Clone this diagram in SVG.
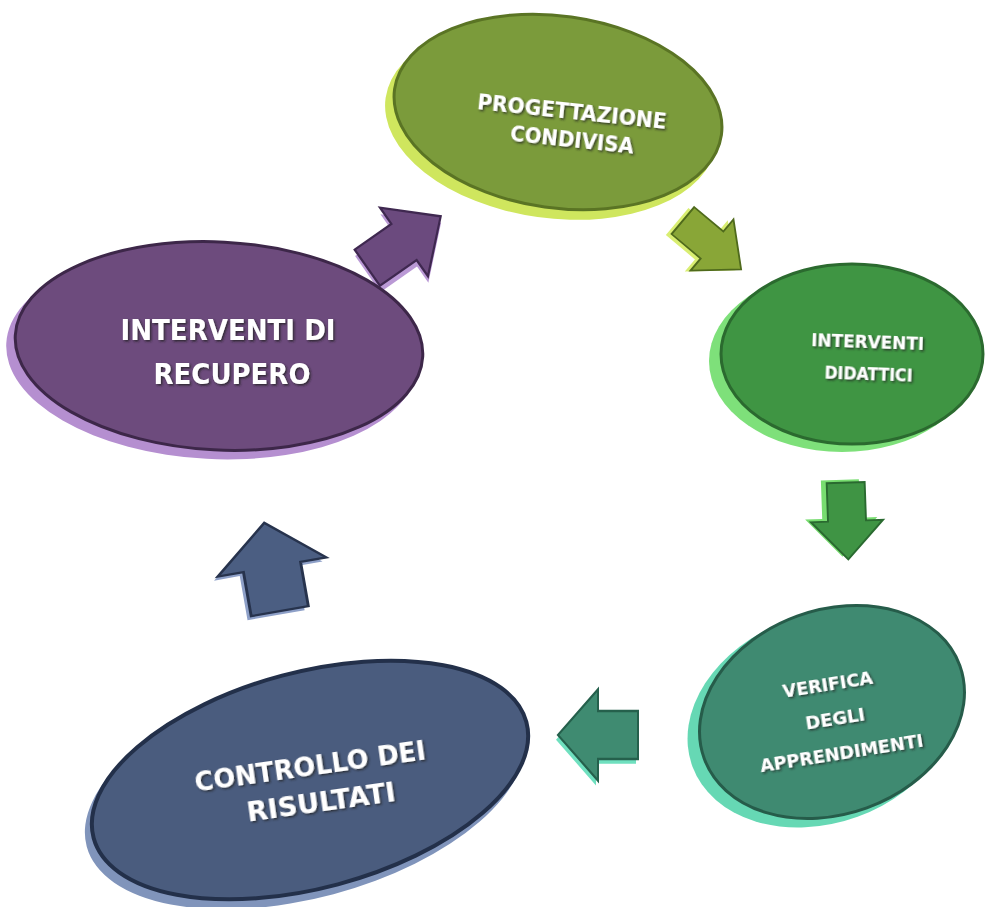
<svg xmlns="http://www.w3.org/2000/svg" width="985" height="907" viewBox="0 0 985 907">
<defs>
<style>
.lbl{font-family:"DejaVu Sans","Liberation Sans",sans-serif;font-weight:bold;fill:#ffffff;text-anchor:middle;filter:url(#ts);}
</style>
<filter id="ts" x="-10%" y="-30%" width="120%" height="160%">
<feDropShadow dx="1.5" dy="1.5" stdDeviation="0.8" flood-color="#222" flood-opacity="0.8"/>
</filter>
<path id="arr" d="M -40,-20 L 0,-20 L 0,-38 L 40,0 L 0,38 L 0,20 L -40,20 Z"/>
</defs>
<rect width="985" height="907" fill="#ffffff"/>

<g id="connectors">
  <g id="a-purple" transform="translate(404,242) rotate(-35) scale(1.12,1.1)">
    <use href="#arr" transform="translate(-3,5)" fill="#b28ed0" opacity="0.9"/>
    <use href="#arr" fill="#6b4a7e" stroke="#3f2850" stroke-width="2"/>
  </g>
  <g id="a-lime" transform="translate(712,245) rotate(40) scale(0.95,0.88)">
    <use href="#arr" transform="translate(-4,5)" fill="#d9ee72"/>
    <use href="#arr" fill="#89a637" stroke="#4f6a1c" stroke-width="2"/>
  </g>
  <g id="a-green" transform="translate(847,521) rotate(88) scale(0.96,0.95)">
    <use href="#arr" transform="translate(-3,6)" fill="#78dd70"/>
    <use href="#arr" fill="#3f9444" stroke="#2a6a30" stroke-width="2"/>
  </g>
  <g id="a-teal" transform="translate(598,735) rotate(180) scale(1.0,1.2)">
    <use href="#arr" transform="translate(2,-4)" fill="#6fe0bf"/>
    <use href="#arr" fill="#3f8b71" stroke="#25604c" stroke-width="2"/>
  </g>
  <g id="a-blue" transform="translate(272,567) rotate(-100) scale(1.12,1.45)">
    <use href="#arr" transform="translate(-3,-3)" fill="#8ea0c8"/>
    <use href="#arr" fill="#4b5e82" stroke="#27334d" stroke-width="2"/>
  </g>
</g>

<g id="n-progettazione">
  <ellipse cx="551" cy="121" rx="167" ry="97" transform="rotate(8 551 121)" fill="#cfe65e"/>
  <ellipse cx="558" cy="112" rx="165" ry="96" transform="rotate(8 558 112)" fill="#7b9b3b" stroke="#5a7424" stroke-width="3"/>
  <text class="lbl" font-size="21" transform="rotate(6 572 111)"><tspan x="572" y="119" textLength="190" lengthAdjust="spacingAndGlyphs">PROGETTAZIONE</tspan><tspan x="575" y="147" textLength="124" lengthAdjust="spacingAndGlyphs">CONDIVISA</tspan></text>
</g>

<g id="n-didattici">
  <ellipse cx="842" cy="361" rx="133" ry="91" fill="#7ee07a"/>
  <ellipse cx="852" cy="354" rx="131" ry="90" fill="#3f9543" stroke="#2b6a2f" stroke-width="3"/>
  <text class="lbl" font-size="17" transform="rotate(2 867 360)"><tspan x="867" y="348" textLength="113" lengthAdjust="spacingAndGlyphs">INTERVENTI</tspan><tspan x="869" y="380" textLength="88" lengthAdjust="spacingAndGlyphs">DIDATTICI</tspan></text>
</g>

<g id="n-verifica">
  <ellipse cx="822" cy="719" rx="138" ry="104" transform="rotate(-20 822 719)" fill="#66d8b4"/>
  <ellipse cx="832" cy="712" rx="136" ry="102" transform="rotate(-20 832 712)" fill="#3f8a71" stroke="#265c4a" stroke-width="3"/>
  <text class="lbl" font-size="18" transform="rotate(-9 835 718)"><tspan x="833" y="690" textLength="91" lengthAdjust="spacingAndGlyphs">VERIFICA</tspan><tspan x="835" y="725" textLength="60" lengthAdjust="spacingAndGlyphs">DEGLI</tspan><tspan x="836" y="760" textLength="165" lengthAdjust="spacingAndGlyphs">APPRENDIMENTI</tspan></text>
</g>

<g id="n-controllo">
  <ellipse cx="305" cy="788" rx="226" ry="110" transform="rotate(-15 305 788)" fill="#8094bb"/>
  <ellipse cx="310" cy="780" rx="224" ry="108" transform="rotate(-15 310 780)" fill="#4a5c7e" stroke="#23304a" stroke-width="4"/>
  <text class="lbl" font-size="27" transform="rotate(-8 315 780)"><tspan x="312" y="775" textLength="233" lengthAdjust="spacingAndGlyphs">CONTROLLO DEI</tspan><tspan x="318" y="812" textLength="150" lengthAdjust="spacingAndGlyphs">RISULTATI</tspan></text>
</g>

<g id="n-recupero">
  <ellipse cx="212" cy="354" rx="206" ry="105" transform="rotate(3 212 354)" fill="#b58fd0"/>
  <ellipse cx="219" cy="346" rx="204" ry="104" transform="rotate(3 219 346)" fill="#6d4b7d" stroke="#3d2749" stroke-width="3"/>
  <text class="lbl" font-size="28"><tspan x="228" y="340" textLength="215" lengthAdjust="spacingAndGlyphs">INTERVENTI DI</tspan><tspan x="232" y="384" textLength="157" lengthAdjust="spacingAndGlyphs">RECUPERO</tspan></text>
</g>
</svg>
